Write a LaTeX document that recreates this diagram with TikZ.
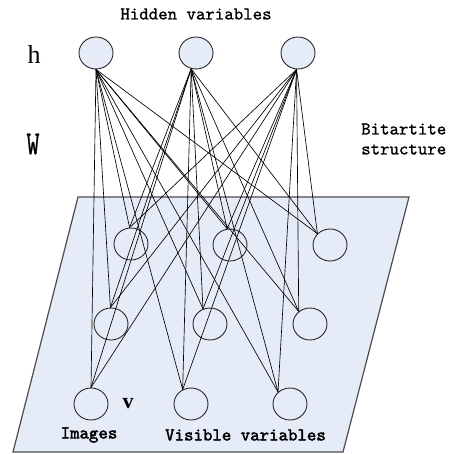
\documentclass[tikz,border=0pt]{standalone}
\usepackage{fontspec}
\setmainfont{Liberation Serif}
\newfontfamily\monof[FakeBold=1]{lmmono10-regular.otf}
\newfontfamily\monob[FakeBold=2.2]{lmmono10-regular.otf}
\usetikzlibrary{shapes.geometric}
\definecolor{plane}{HTML}{E6ECF7}
\begin{document}
\begin{tikzpicture}[x=1pt,y=-1pt,
  unode/.style={ellipse,draw=black!85,line width=0.9pt,minimum width=34pt,minimum height=32pt,inner sep=0pt},
  hnode/.style={unode,fill=plane},
  vnode/.style={unode},
  wedge/.style={line width=0.65pt},
  lbl/.style={font=\monof\fontsize{18}{20}\selectfont,inner sep=0pt},
  blbl/.style={font=\monob\fontsize{18}{20}\selectfont,inner sep=0pt}]
\useasboundingbox (0,0) rectangle (457,454);
\draw[fill=plane,draw=black!70,line width=1.2pt] (78,197) -- (409,197) -- (343,452) -- (13,452) -- cycle;
% nodes
\node[hnode] (h1) at (96,53) {};
\node[hnode] (h2) at (196,53) {};
\node[hnode] (h3) at (298,53) {};
\node[vnode] (v11) at (131,244) {};
\node[vnode] (v12) at (230,245) {};
\node[vnode] (v13) at (330,245) {};
\node[vnode] (v21) at (111,324) {};
\node[vnode] (v22) at (210,324) {};
\node[vnode] (v23) at (310,324) {};
\node[vnode] (v31) at (91,404) {};
\node[vnode] (v32) at (191,404) {};
\node[vnode] (v33) at (290,404) {};
% edges
\foreach \h/\ha in {h1/270,h2/253,h3/265}{
  \foreach \v/\va in {v11/95,v12/100,v13/138,v21/92,v22/115,v23/132,v31/90,v32/120,v33/135}{
    \draw[wedge] (\h.\ha) -- (\v.\va);
  }
}
% labels
\node[lbl] (thid) at (196,14) {Hidden variables};
\node[font=\fontsize{26}{26}\selectfont,inner sep=0pt] (th) at (34,54) {h};
\node[font=\monof\fontsize{25}{25}\selectfont,inner sep=0pt] (tw) at (33,144) {\scalebox{1}[1.35]{W}};
\node[lbl,align=left,anchor=west] (tbi) at (361,139) {Bitartite\\structure};
\node[font=\bfseries\fontsize{22}{22}\selectfont,inner sep=0pt] (tv) at (128,404) {v};
\node[blbl] (timg) at (89,435) {Images};
\node[blbl] (tvis) at (245.5,435) {Visible variables};
\end{tikzpicture}
\end{document}
